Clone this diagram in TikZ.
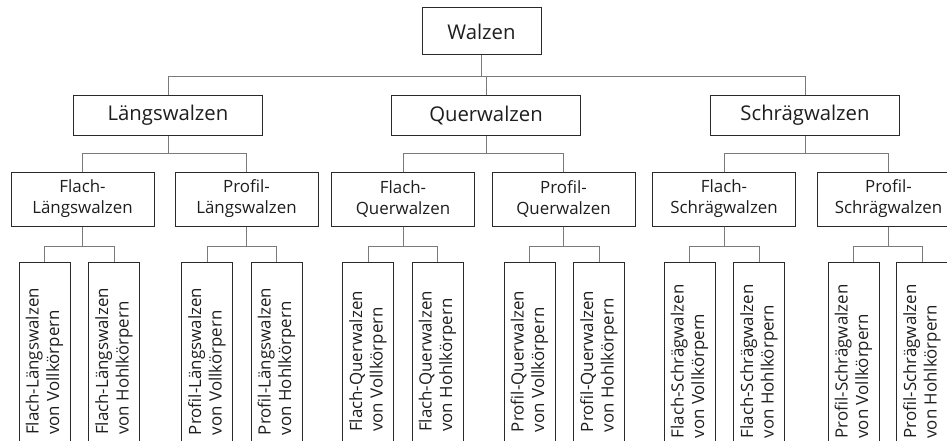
\documentclass[tikz,border=0pt]{standalone}
\usepackage{fontspec}
\setmainfont{Open Sans}
\definecolor{txt}{HTML}{1E1E1E}
\definecolor{boxline}{HTML}{2A2A2A}
\definecolor{connline}{HTML}{7A7A7A}
\begin{document}
\begin{tikzpicture}[x=1pt,y=-1pt,
  every node/.style={text=txt},
  rootbox/.style={draw=boxline, line width=1pt, minimum width=119pt, minimum height=47pt, inner sep=0pt, font=\fontsize{20.3}{23}\selectfont},
  midbox/.style={draw=boxline, line width=1pt, minimum width=189pt, minimum height=40pt, inner sep=0pt, font=\fontsize{20.3}{23}\selectfont},
  subbox/.style={draw=boxline, line width=1pt, minimum width=143pt, minimum height=54pt, inner sep=0pt, align=center, font=\fontsize{16.9}{21}\selectfont},
  leafbox/.style={draw=boxline, line width=1pt, rotate=90, anchor=east, minimum width=198pt, minimum height=51pt, inner sep=0pt, align=left, font=\fontsize{16.9}{20.5}\selectfont},
  conn/.style={draw=connline, line width=1pt}
]
\useasboundingbox (0,0) rectangle (947,441);
\clip (0,0) rectangle (947,441);

% level 1
\node[rootbox] (w) at (481.5,31.5) {Walzen};

% level 2
\node[midbox] (L) at (168,115.5) {Längswalzen};
\node[midbox] (Q) at (486,115.5) {Querwalzen};
\node[midbox] (S) at (805,115.5) {Schrägwalzen};

% level 3
\node[subbox] (FL) at (82.5,199) {Flach-\\Längswalzen};
\node[subbox] (PL) at (246.5,199) {Profil-\\Längswalzen};
\node[subbox] (FQ) at (403,199) {Flach-\\Querwalzen};
\node[subbox] (PQ) at (563.5,199) {Profil-\\Querwalzen};
\node[subbox] (FS) at (724,199) {Flach-\\Schrägwalzen};
\node[subbox] (PS) at (888.5,199) {Profil-\\Schrägwalzen};

% level 4
\node[leafbox] (FLV) at (44.5,262) {Flach-Längswalzen\\von Vollkörpern};
\node[leafbox] (FLH) at (114,262) {Flach-Längswalzen\\von Hohlkörpern};
\node[leafbox] (PLV) at (207,262) {Profil-Längswalzen\\von Vollkörpern};
\node[leafbox] (PLH) at (276.5,262) {Profil-Längswalzen\\von Hohlkörpern};
\node[leafbox] (FQV) at (368,262) {Flach-Querwalzen\\von Vollkörpern};
\node[leafbox] (FQH) at (437.5,262) {Flach-Querwalzen\\von Hohlkörpern};
\node[leafbox] (PQV) at (529.5,262) {Profil-Querwalzen\\von Vollkörpern};
\node[leafbox] (PQH) at (599,262) {Profil-Querwalzen\\von Hohlkörpern};
\node[leafbox] (FSV) at (689.5,262) {Flach-Schrägwalzen\\von Vollkörpern};
\node[leafbox] (FSH) at (759,262) {Flach-Schrägwalzen\\von Hohlkörpern};
\node[leafbox] (PSV) at (853.5,262) {Profil-Schrägwalzen\\von Vollkörpern};
\node[leafbox] (PSH) at (922,262) {Profil-Schrägwalzen\\von Hohlkörpern};

% connectors level 1 -> 2
\foreach \c in {L,Q,S} \draw[conn] (w.south) -- ++(0,21.5) -| (\c.north);
% level 2 -> 3
\draw[conn] (L.south) -- ++(0,17.5) -| (FL.north);
\draw[conn] (L.south) -- ++(0,17.5) -| (PL.north);
\draw[conn] (Q.south) -- ++(0,17.5) -| (FQ.north);
\draw[conn] (Q.south) -- ++(0,17.5) -| (PQ.north);
\draw[conn] (S.south) -- ++(0,17.5) -| (FS.north);
\draw[conn] (S.south) -- ++(0,17.5) -| (PS.north);
% level 3 -> 4
\draw[conn] (FL.south) -- ++(0,20) -| (FLV.east);
\draw[conn] (FL.south) -- ++(0,20) -| (FLH.east);
\draw[conn] (PL.south) -- ++(0,20) -| (PLV.east);
\draw[conn] (PL.south) -- ++(0,20) -| (PLH.east);
\draw[conn] (FQ.south) -- ++(0,20) -| (FQV.east);
\draw[conn] (FQ.south) -- ++(0,20) -| (FQH.east);
\draw[conn] (PQ.south) -- ++(0,20) -| (PQV.east);
\draw[conn] (PQ.south) -- ++(0,20) -| (PQH.east);
\draw[conn] (FS.south) -- ++(0,20) -| (FSV.east);
\draw[conn] (FS.south) -- ++(0,20) -| (FSH.east);
\draw[conn] (PS.south) -- ++(0,20) -| (PSV.east);
\draw[conn] (PS.south) -- ++(0,20) -| (PSH.east);
\end{tikzpicture}
\end{document}
